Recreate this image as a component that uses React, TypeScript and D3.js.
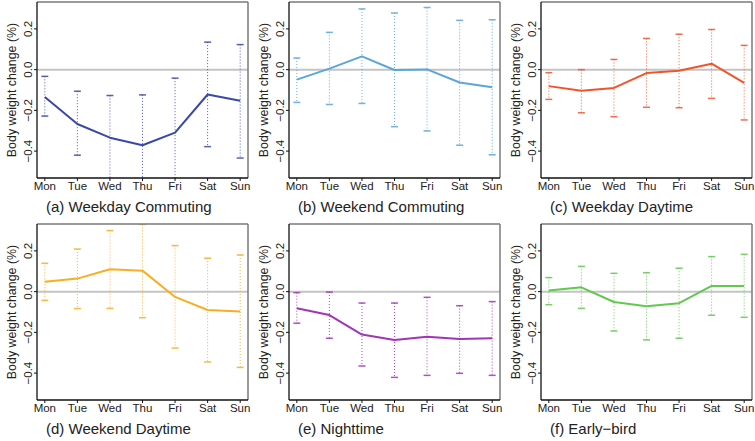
import React from "react";
import * as d3 from "d3";

const days = ["Mon", "Tue", "Wed", "Thu", "Fri", "Sat", "Sun"];
const yTicks = [-0.4, -0.2, 0.0, 0.2];
const yDomain = [-0.532, 0.332];

const panelTitles = [
  "(a) Weekday Commuting",
  "(b) Weekend Commuting",
  "(c) Weekday Daytime",
  "(d) Weekend Daytime",
  "(e) Nighttime",
  "(f) Early\u2212bird",
];
const panelColors = ["#3a48aa", "#5aa6da", "#f2542a", "#f9ae22", "#a234b8", "#62c84e"];

const weekdayCommutingMean = [-0.134, -0.267, -0.334, -0.371, -0.309, -0.122, -0.153];
const weekdayCommutingUpper = [-0.033, -0.106, -0.127, -0.124, -0.042, 0.135, 0.123];
const weekdayCommutingLower = [-0.228, -0.42, -0.58, -0.62, -0.57, -0.378, -0.434];

const weekendCommutingMean = [-0.049, 0.005, 0.065, -0.002, 0.001, -0.063, -0.086];
const weekendCommutingUpper = [0.057, 0.183, 0.298, 0.278, 0.305, 0.242, 0.245];
const weekendCommutingLower = [-0.161, -0.171, -0.166, -0.28, -0.301, -0.371, -0.418];

const weekdayDaytimeMean = [-0.081, -0.104, -0.09, -0.017, -0.005, 0.029, -0.065];
const weekdayDaytimeUpper = [-0.015, 0.0, 0.05, 0.153, 0.174, 0.197, 0.119];
const weekdayDaytimeLower = [-0.146, -0.212, -0.231, -0.185, -0.187, -0.141, -0.247];

const weekendDaytimeMean = [0.049, 0.064, 0.11, 0.103, -0.026, -0.09, -0.097];
const weekendDaytimeUpper = [0.139, 0.209, 0.3, 0.33, 0.226, 0.164, 0.18];
const weekendDaytimeLower = [-0.043, -0.083, -0.082, -0.128, -0.277, -0.345, -0.372];

const nighttimeMean = [-0.082, -0.115, -0.211, -0.237, -0.221, -0.232, -0.229];
const nighttimeUpper = [-0.005, -0.002, -0.056, -0.056, -0.028, -0.069, -0.049];
const nighttimeLower = [-0.155, -0.229, -0.365, -0.421, -0.411, -0.401, -0.411];

const earlyBirdMean = [0.005, 0.021, -0.051, -0.072, -0.057, 0.028, 0.028];
const earlyBirdUpper = [0.069, 0.124, 0.09, 0.093, 0.115, 0.172, 0.183];
const earlyBirdLower = [-0.064, -0.082, -0.193, -0.237, -0.229, -0.116, -0.126];

const panelMeans = [weekdayCommutingMean, weekendCommutingMean, weekdayDaytimeMean, weekendDaytimeMean, nighttimeMean, earlyBirdMean];
const panelUppers = [weekdayCommutingUpper, weekendCommutingUpper, weekdayDaytimeUpper, weekendDaytimeUpper, nighttimeUpper, earlyBirdUpper];
const panelLowers = [weekdayCommutingLower, weekendCommutingLower, weekdayDaytimeLower, weekendDaytimeLower, nighttimeLower, earlyBirdLower];

const W = 755;
const H = 441;
const FONT = "'Liberation Sans', Arial, Helvetica, sans-serif";
const PW = 211;
const PH = 176;

function fmt(v: number) {
  const s = Math.abs(v).toFixed(1);
  return v < -1e-9 ? "\u2212" + s : s;
}

function Panel({ idx }: { idx: number }) {
  const col = idx % 3;
  const row = Math.floor(idx / 3);
  const left = 37 + col * 252;
  const top = 2 + row * 222;
  const x = d3.scaleLinear().domain([0.76, 7.24]).range([left, left + PW]);
  const y = d3.scaleLinear().domain(yDomain).range([top + PH, top]);
  const color = panelColors[idx];
  const mean = panelMeans[idx];
  const up = panelUppers[idx];
  const lo = panelLowers[idx];
  const line = d3
    .line<number>()
    .x((_, i) => x(i + 1))
    .y((d) => y(d));
  const clipId = `clip-${idx}`;
  return (
    <g>
      <defs>
        <clipPath id={clipId}>
          <rect x={left} y={top} width={PW} height={PH} />
        </clipPath>
      </defs>
      {/* zero line */}
      <line x1={left} x2={left + PW} y1={y(0)} y2={y(0)} stroke="#c4c4c4" strokeWidth={2} />
      <g clipPath={`url(#${clipId})`}>
        {days.map((_, i) => (
          <g key={i}>
            <line
              x1={x(i + 1)}
              x2={x(i + 1)}
              y1={y(up[i])}
              y2={y(lo[i])}
              stroke={color}
              strokeWidth={1}
              strokeDasharray="1,2"
              opacity={0.9}
            />
            <line x1={x(i + 1) - 3.5} x2={x(i + 1) + 3.5} y1={y(up[i])} y2={y(up[i])} stroke={color} strokeWidth={1.5} opacity={0.85} />
            <line x1={x(i + 1) - 3.5} x2={x(i + 1) + 3.5} y1={y(lo[i])} y2={y(lo[i])} stroke={color} strokeWidth={1.5} opacity={0.85} />
          </g>
        ))}
        <path d={line(mean) || ""} fill="none" stroke={color} strokeWidth={2} strokeLinejoin="round" />
      </g>
      {/* frame */}
      <line x1={left} x2={left + PW} y1={top} y2={top} stroke="#7a7a7a" strokeWidth={1.5} />
      <line x1={left + PW} x2={left + PW} y1={top} y2={top + PH} stroke="#7a7a7a" strokeWidth={1.5} />
      <line x1={left} x2={left} y1={top} y2={top + PH} stroke="#111" strokeWidth={1.3} />
      <line x1={left} x2={left + PW} y1={top + PH} y2={top + PH} stroke="#111" strokeWidth={1.3} />
      {/* y ticks */}
      {yTicks.map((t) => (
        <g key={t}>
          <line x1={left - 3} x2={left} y1={y(t)} y2={y(t)} stroke="#111" strokeWidth={1} />
          <text
            transform={`translate(${left - 9},${y(t)}) rotate(-90)`}
            textAnchor="middle"
            dy="0.35em"
            fontSize={11.5}
            fontFamily={FONT}
            fill="#222"
          >
            {fmt(t)}
          </text>
        </g>
      ))}
      {/* x ticks */}
      {days.map((d, i) => (
        <g key={d}>
          <line x1={x(i + 1)} x2={x(i + 1)} y1={top + PH} y2={top + PH + 3} stroke="#111" strokeWidth={1} />
          <text x={x(i + 1)} y={top + PH + 12} textAnchor="middle" fontSize={11.5} fontFamily={FONT} fill="#222">
            {d}
          </text>
        </g>
      ))}
      {/* y label */}
      <text
        transform={`translate(${left - 25},${top + PH / 2}) rotate(-90)`}
        textAnchor="middle"
        dy="0.35em"
        fontSize={12.4}
        fontFamily={FONT}
        fill="#222"
      >
        Body weight change (%)
      </text>
      {/* title */}
      <text x={left + 9} y={top + PH + 34} fontSize={15} fontFamily={FONT} fill="#222">
        {panelTitles[idx]}
      </text>
    </g>
  );
}

export default function App() {
  return (
    <svg width={W} height={H} style={{ position: "absolute", left: 0, top: 0, background: "#fff" }}>
      <rect width={W} height={H} fill="#fff" />
      {panelTitles.map((_, i) => (
        <Panel key={i} idx={i} />
      ))}
    </svg>
  );
}
